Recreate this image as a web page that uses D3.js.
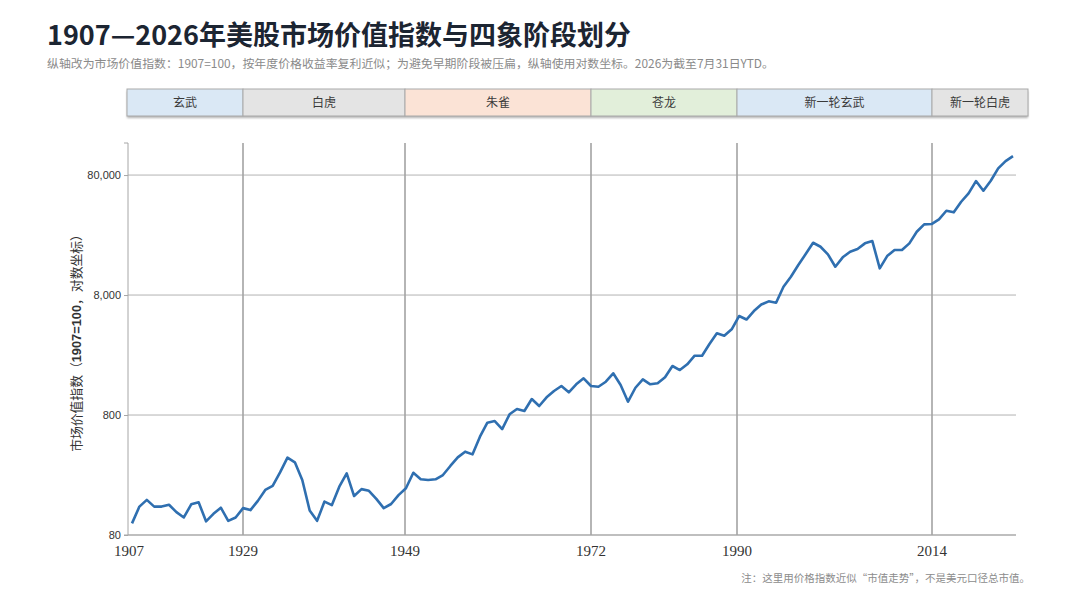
<!DOCTYPE html>
<html>
<head>
<meta charset="utf-8">
<script src="https://cdn.jsdelivr.net/npm/d3@7"></script>
<style>
  body { margin: 0; background: #fff; }
  svg { display: block; font-family: "Noto Sans CJK SC", "Noto Sans", sans-serif; }
</style>
</head>
<body>
<script>
// index value, 1907 = 100, one point per year (2026 = YTD to Jul 31)
const firstYear = 1907;
const indexValues = [
  100, 138, 157, 138, 138, 143, 124, 112, 144, 150,
  104, 120, 135, 105, 112, 134, 129, 154, 190, 205,
  266, 353, 323, 230, 128, 105, 152, 142, 202, 261,
  169, 193, 187, 160, 134, 145, 172, 196, 264, 233,
  230, 233, 253, 301, 355, 396, 376, 528, 690, 713,
  611, 811, 898, 864, 1088, 951, 1123, 1268, 1396, 1237,
  1442, 1618, 1396, 1377, 1516, 1781, 1423, 1033, 1350, 1587,
  1442, 1470, 1650, 2049, 1897, 2116, 2497, 2497, 3125, 3837,
  3664, 4143, 5346, 4999, 5885, 6666, 7090, 6902, 9385, 11368,
  14226, 17574, 21825, 20211, 17470, 13767, 16496, 18361, 19346, 21574,
  22541, 13352, 16904, 18967, 18967, 21574, 26950, 31064, 31240, 34190,
  40338, 39110, 47933, 56313, 71302, 59203, 71715, 90977, 104660, 115200
];

const phaseNames = ["玄武", "白虎", "朱雀", "苍龙", "新一轮玄武", "新一轮白虎"];
const phaseStarts = [1907, 1929, 1949, 1972, 1990, 2014];
const phaseEnd = 2026;
const yTicks = [80, 800, 8000, 80000];

const phaseFill = ["#dae8f5", "#e4e4e4", "#fbe3d6", "#e2efda", "#dae8f5", "#e4e4e4"];

function init() {
  const W = 1080, H = 608;
  const left = 128, right = 1016, top = 143, bottom = 535;

  let svg = d3.select("body").append("svg")
    .attr("width", W)
    .attr("height", H);

  let defs = svg.append("defs");
  let shadow = defs.append("filter").attr("id", "shadow")
    .attr("x", "-5%").attr("y", "-30%").attr("width", "110%").attr("height", "180%");
  shadow.append("feDropShadow")
    .attr("dx", 0).attr("dy", 2).attr("stdDeviation", 1.3)
    .attr("flood-color", "#000").attr("flood-opacity", 0.3);

  let data = indexValues.map((v, i) => ({ year: firstYear + i, value: v }));

  // line runs on an even yearly scale, the phase ribbon/grid on its own stops
  let x = d3.scaleLinear().domain([firstYear, phaseEnd]).range([132, 1013]);
  let xPhase = d3.scaleLinear()
    .domain([...phaseStarts, phaseEnd])
    .range([127, 243, 405, 591, 737, 932, 1028]);
  let y = d3.scaleLog().domain([80, 148000]).range([bottom, top]);

  // title + subtitle
  svg.append("text")
    .attr("x", 47).attr("y", 45)
    .attr("font-size", 27).attr("font-weight", 700)
    .attr("fill", "#1c2532")
    .text("1907—2026年美股市场价值指数与四象阶段划分");

  svg.append("text")
    .attr("x", 47).attr("y", 68)
    .attr("font-size", 11.9)
    .attr("fill", "#8a8a8a")
    .text("纵轴改为市场价值指数：1907=100，按年度价格收益率复利近似；为避免早期阶段被压扁，纵轴使用对数坐标。2026为截至7月31日YTD。");

  // phase ribbon
  let phases = phaseNames.map((n, i) => ({
    name: n,
    start: phaseStarts[i],
    end: i + 1 < phaseStarts.length ? phaseStarts[i + 1] : phaseEnd,
    fill: phaseFill[i]
  }));

  let ribbon = svg.append("g");
  ribbon.append("rect")
    .attr("x", xPhase(firstYear)).attr("y", 89)
    .attr("width", xPhase(phaseEnd) - xPhase(firstYear)).attr("height", 27)
    .attr("fill", "#fff")
    .attr("filter", "url(#shadow)");

  ribbon.selectAll()
    .data(phases)
    .enter()
      .append("rect")
        .attr("x", d => xPhase(d.start))
        .attr("y", 89)
        .attr("width", d => xPhase(d.end) - xPhase(d.start))
        .attr("height", 27)
        .attr("fill", d => d.fill)
        .attr("stroke", "#a9a9a9")
        .attr("stroke-width", 1);

  ribbon.selectAll()
    .data(phases)
    .enter()
      .append("text")
        .attr("x", d => (xPhase(d.start) + xPhase(d.end)) / 2)
        .attr("y", 107)
        .attr("text-anchor", "middle")
        .attr("font-size", 12)
        .attr("fill", "#3a3a3a")
        .text(d => d.name);

  // horizontal grid
  svg.append("g").selectAll()
    .data(yTicks)
    .enter()
      .append("line")
        .attr("x1", left).attr("x2", right)
        .attr("y1", d => y(d)).attr("y2", d => y(d))
        .attr("stroke", "#b3b3b3")
        .attr("stroke-width", 1);

  // phase boundary lines
  svg.append("g").selectAll()
    .data(phaseStarts.slice(1))
    .enter()
      .append("line")
        .attr("x1", d => xPhase(d)).attr("x2", d => xPhase(d))
        .attr("y1", top).attr("y2", bottom)
        .attr("stroke", "#a3a3a3")
        .attr("stroke-width", 1.6);

  // y axis
  let yAxis = svg.append("g")
    .attr("transform", `translate(${left},0)`)
    .call(d3.axisLeft(y).tickValues(yTicks).tickFormat(d3.format(",")).tickSize(4).tickPadding(3));
  yAxis.select(".domain").attr("stroke", "#a6a6a6").attr("d", `M-4,${top}H0V${bottom}H-4`);
  yAxis.selectAll(".tick line").attr("stroke", "#a6a6a6");
  yAxis.selectAll(".tick text")
    .attr("font-family", "'Liberation Sans', Arial, sans-serif")
    .attr("font-size", 11)
    .attr("fill", "#333");

  // bottom axis line
  svg.append("line")
    .attr("x1", left).attr("x2", right)
    .attr("y1", bottom).attr("y2", bottom)
    .attr("stroke", "#a6a6a6")
    .attr("stroke-width", 1.2);

  // x labels at phase starts
  svg.append("g").selectAll()
    .data(phaseStarts)
    .enter()
      .append("text")
        .attr("x", d => xPhase(d) + (d == firstYear ? 2 : 0))
        .attr("y", 556)
        .attr("text-anchor", "middle")
        .attr("font-family", "'Liberation Serif', 'DejaVu Serif', serif")
        .attr("font-size", 15)
        .attr("fill", "#333")
        .text(d => d);

  // y title
  let yTitle = svg.append("text")
    .attr("transform", "translate(81,340) rotate(-90)")
    .attr("text-anchor", "middle")
    .attr("font-size", 12.8)
    .attr("fill", "#333");
  yTitle.append("tspan").text("市场价值指数（");
  yTitle.append("tspan").attr("font-weight", 700)
    .attr("font-family", "'Liberation Sans', Arial, sans-serif").text("1907=100");
  yTitle.append("tspan").text("，对数坐标）");

  // the series
  svg.append("path")
    .datum(data)
    .attr("fill", "none")
    .attr("stroke", "#2f6fb0")
    .attr("stroke-width", 2.6)
    .attr("stroke-linejoin", "round")
    .attr("d", d3.line().x(d => x(d.year)).y(d => y(d.value)));

  // footnote
  svg.append("text")
    .attr("x", 1030).attr("y", 582)
    .attr("text-anchor", "end")
    .attr("font-size", 10.5)
    .attr("fill", "#8c8c8c")
    .text("注：这里用价格指数近似“市值走势”，不是美元口径总市值。");
}

init();
</script>
</body>
</html>
